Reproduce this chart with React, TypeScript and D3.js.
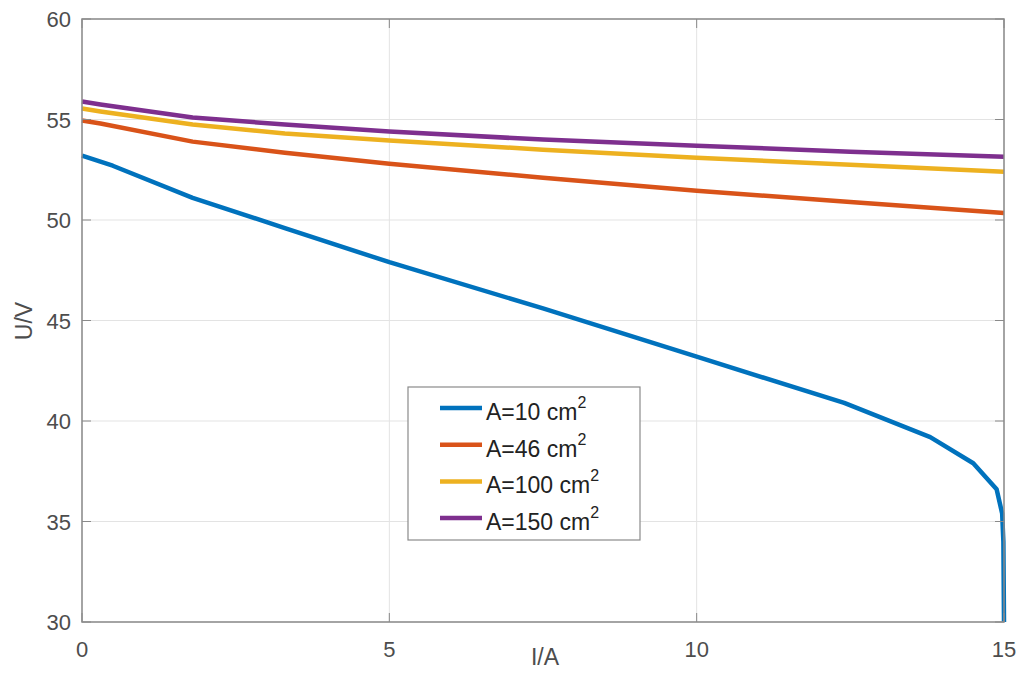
import React from "react";
import * as d3 from "d3";

const seriesNames = ["A=10 cm", "A=46 cm", "A=100 cm", "A=150 cm"];
const colors = ["#0072BD", "#D95319", "#EDB120", "#7E2F8E"];
const xTicks = [0, 5, 10, 15];
const yTicks = [30, 35, 40, 45, 50, 55, 60];

const blue: [number, number][] = [
  [0, 53.2], [0.5, 52.7], [1.8, 51.1], [3.3, 49.6], [5, 47.9], [7.5, 45.6],
  [10, 43.2], [12.4, 40.9], [13.8, 39.2], [14.5, 37.9], [14.88, 36.6],
  [14.97, 35.4], [14.99, 34], [15, 30],
];
const orange: [number, number][] = [
  [0, 54.95], [0.3, 54.8], [1.8, 53.9], [3.3, 53.35], [5, 52.8], [7.5, 52.1],
  [10, 51.45], [12.5, 50.9], [15, 50.35],
];
const yellow: [number, number][] = [
  [0, 55.55], [0.3, 55.4], [1.8, 54.75], [3.3, 54.3], [5, 53.95], [7.5, 53.5],
  [10, 53.1], [12.5, 52.75], [15, 52.4],
];
const purple: [number, number][] = [
  [0, 55.9], [0.3, 55.75], [1.8, 55.1], [3.3, 54.75], [5, 54.4], [7.5, 54.0],
  [10, 53.7], [12.5, 53.4], [15, 53.15],
];
const allSeries = [blue, orange, yellow, purple];

export default function App() {
  const W = 1024, H = 673;
  const left = 82, right = 1004, top = 19, bottom = 622;
  const x = d3.scaleLinear().domain([0, 15]).range([left, right]);
  const y = d3.scaleLinear().domain([30, 60]).range([bottom, top]);
  const line = d3.line<[number, number]>().x(d => x(d[0])).y(d => y(d[1]));
  const font = "Liberation Sans, Arial, sans-serif";
  const lg = { x: 408, y: 387, w: 232, h: 153 };
  return (
    <svg width={W} height={H} style={{ position: "absolute", left: 0, top: 0 }} fontFamily={font}>
      <rect x={0} y={0} width={W} height={H} fill="#fff" />
      {xTicks.map(t => (
        <line key={"gx" + t} x1={x(t)} x2={x(t)} y1={top} y2={bottom} stroke="#e3e3e3" strokeWidth={1} />
      ))}
      {yTicks.map(t => (
        <line key={"gy" + t} x1={left} x2={right} y1={y(t)} y2={y(t)} stroke="#e3e3e3" strokeWidth={1} />
      ))}
      {allSeries.map((s, i) => (
        <path key={i} d={line(s) || ""} fill="none" stroke={colors[i]} strokeWidth={4.5} strokeLinejoin="round" />
      ))}
      <rect x={left} y={top} width={right - left} height={bottom - top} fill="none" stroke="#8a8a8a" strokeWidth={1.5} />
      {xTicks.map(t => (
        <g key={"tx" + t}>
          <line x1={x(t)} x2={x(t)} y1={bottom} y2={bottom - 9} stroke="#8a8a8a" />
          <line x1={x(t)} x2={x(t)} y1={top} y2={top + 9} stroke="#8a8a8a" />
          <text x={x(t)} y={bottom + 35} textAnchor="middle" fontSize={22} fill="#4d4d4d">{t}</text>
        </g>
      ))}
      {yTicks.map(t => (
        <g key={"ty" + t}>
          <line x1={left} x2={left + 9} y1={y(t)} y2={y(t)} stroke="#8a8a8a" />
          <line x1={right} x2={right - 9} y1={y(t)} y2={y(t)} stroke="#8a8a8a" />
          <text x={left - 11} y={y(t) + 8} textAnchor="end" fontSize={22} fill="#4d4d4d">{t}</text>
        </g>
      ))}
      <text x={545} y={665} textAnchor="middle" fontSize={23} fill="#4d4d4d">I/A</text>
      <text transform={`translate(32, 321) rotate(-90)`} textAnchor="middle" fontSize={23} fill="#4d4d4d">U/V</text>
      <rect x={lg.x} y={lg.y} width={lg.w} height={lg.h} fill="#fff" stroke="#8a8a8a" strokeWidth={1.2} />
      {seriesNames.map((n, i) => {
        const cy = lg.y + 21 + i * 36.7;
        return (
          <g key={"lg" + i}>
            <line x1={440} x2={482} y1={cy} y2={cy} stroke={colors[i]} strokeWidth={4.5} />
            <text x={486} y={cy + 12} fontSize={23} fill="#222">
              {n}
              <tspan fontSize={16} dy={-12}>2</tspan>
            </text>
          </g>
        );
      })}
    </svg>
  );
}
